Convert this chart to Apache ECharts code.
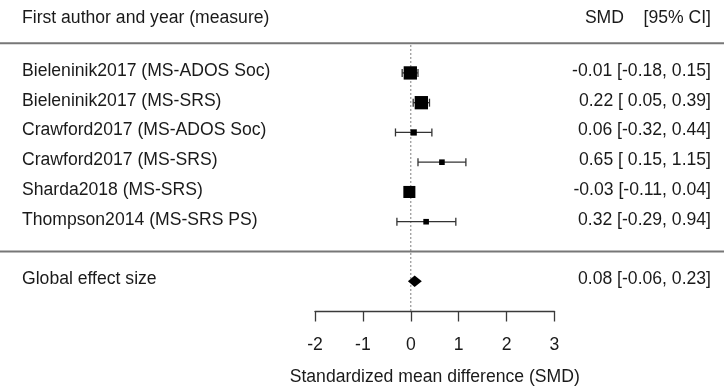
<!DOCTYPE html>
<html><head><meta charset="utf-8">
<script src="https://cdn.jsdelivr.net/npm/echarts@6/dist/echarts.min.js"></script>
<style>html,body{margin:0;padding:0;background:#fff}#c{width:724px;height:391px}</style>
</head><body><div id="c"></div>
<script>
// ---- data ----
const studies = ['Bieleninik2017 (MS-ADOS Soc)', 'Bieleninik2017 (MS-SRS)', 'Crawford2017 (MS-ADOS Soc)', 'Crawford2017 (MS-SRS)', 'Sharda2018 (MS-SRS)', 'Thompson2014 (MS-SRS PS)'];
const smd = [-0.01, 0.22, 0.06, 0.65, -0.03, 0.32];
const ciLow = [-0.18, 0.05, -0.32, 0.15, -0.11, -0.29];
const ciHigh = [0.15, 0.39, 0.44, 1.15, 0.04, 0.94];
const weights = [0.95, 0.95, 0.45, 0.4, 0.86, 0.4]; // relative box scale
const globalLabel = 'Global effect size';
const globalSmd = [0.08];
const globalLow = [-0.06];
const globalHigh = [0.23];
const xTicks = [-2, -1, 0, 1, 2, 3];
const headerLeft = 'First author and year (measure)';
const headerRight = 'SMD    [95% CI]';
const xTitle = 'Standardized mean difference (SMD)';

// ---- layout ----
const FONT = '"Liberation Sans", Arial, sans-serif';
const FS = 17.6;
const TXT = '#1a1a1a';
const studyRows = studies.map((_, i) => i + 1);
const globalRow = 8;
const headerRow = -0.78;
const sepRows = [0, 7];
const textShift = -2;

function f2(v) { return v.toFixed(2); }
function annot(e, lo, hi) { return f2(e) + ' [' + (lo < 0 ? '' : ' ') + f2(lo) + ', ' + f2(hi) + ']'; }

const textRows = [];
textRows.push({k: headerRow, l: headerLeft, r: headerRight});
studies.forEach((s, i) => textRows.push({k: studyRows[i], l: s, r: annot(smd[i], ciLow[i], ciHigh[i])}));
textRows.push({k: globalRow, l: globalLabel, r: annot(globalSmd[0], globalLow[0], globalHigh[0])});

const chart = echarts.init(document.getElementById('c'));
chart.setOption({
  animation: false,
  backgroundColor: '#fff',
  grid: {left: 315, right: 169.5, top: 13.4, bottom: 79.6},
  xAxis: {
    type: 'value', position: 'bottom', min: xTicks[0], max: xTicks[xTicks.length - 1], interval: 1,
    splitLine: {show: false},
    axisLine: {show: true, onZero: false, lineStyle: {color: '#3a3a3a', width: 1.3}},
    axisTick: {show: true, length: 10.5, lineStyle: {color: '#3a3a3a', width: 1.3}},
    axisLabel: {color: TXT, fontFamily: FONT, fontSize: FS, margin: 25},
    name: xTitle, nameLocation: 'middle', nameGap: 57,
    nameTextStyle: {color: TXT, fontFamily: FONT, fontSize: FS}
  },
  yAxis: {type: 'value', min: -1, max: 9, interval: 1, inverse: true, show: false},
  series: [
    { // separator lines
      type: 'custom', silent: true, clip: false,
      data: sepRows.map(k => [0, k]),
      encode: {x: 0, y: 1},
      renderItem: (p, api) => {
        const y = api.coord([0, api.value(1)])[1];
        return {type: 'line', shape: {x1: 0, y1: y, x2: api.getWidth(), y2: y},
          style: {stroke: '#777', lineWidth: 2}};
      }
    },
    { // reference line at 0
      type: 'line', silent: true, symbol: 'none',
      data: [[0, 0.07], [0, 9]],
      lineStyle: {color: '#555', width: 1, type: [1.5, 2.5]}, z: 1
    },
    { // studies
      type: 'custom', clip: false,
      data: studies.map((s, i) => [studyRows[i], smd[i], ciLow[i], ciHigh[i], weights[i]]),
      encode: {x: [1, 2, 3], y: 0},
      renderItem: (p, api) => {
        const k = api.value(0), e = api.value(1), lo = api.value(2), hi = api.value(3), w = api.value(4);
        const a = api.coord([lo, k]), b = api.coord([hi, k]), c = api.coord([e, k]);
        const cap = 4, s = 14 * w;
        const ls = {stroke: '#333', lineWidth: 1.3};
        return {type: 'group', children: [
          {type: 'line', shape: {x1: a[0], y1: a[1], x2: b[0], y2: b[1]}, style: ls},
          {type: 'line', shape: {x1: a[0], y1: a[1] - cap, x2: a[0], y2: a[1] + cap}, style: ls},
          {type: 'line', shape: {x1: b[0], y1: b[1] - cap, x2: b[0], y2: b[1] + cap}, style: ls},
          {type: 'rect', shape: {x: c[0] - s / 2, y: c[1] - s / 2, width: s, height: s}, style: {fill: '#000'}}
        ]};
      }, z: 3
    },
    { // summary diamond
      type: 'custom', clip: false,
      data: [[globalRow, globalSmd[0], globalLow[0], globalHigh[0]]],
      encode: {x: [1, 2, 3], y: 0},
      renderItem: (p, api) => {
        const k = api.value(0);
        const a = api.coord([api.value(2), k]), b = api.coord([api.value(3), k]), c = api.coord([api.value(1), k]);
        const h = 5.8;
        return {type: 'polygon', shape: {points: [[a[0], a[1]], [c[0], c[1] - h], [b[0], b[1]], [c[0], c[1] + h]]},
          style: {fill: '#000'}};
      }, z: 3
    },
    { // text columns
      type: 'custom', clip: false, silent: true,
      data: textRows.map(r => [0, r.k]),
      encode: {x: 0, y: 1},
      renderItem: (p, api) => {
        const r = textRows[p.dataIndex];
        const y = api.coord([0, r.k])[1] + textShift;
        const st = {fill: TXT, fontFamily: FONT, fontSize: FS, verticalAlign: 'middle'};
        return {type: 'group', children: [
          {type: 'text', x: 22, y: y, style: Object.assign({text: r.l, align: 'left'}, st)},
          {type: 'text', x: 711, y: y, style: Object.assign({text: r.r, align: 'right'}, st)}
        ]};
      }
    }
  ]
});
</script></body></html>
